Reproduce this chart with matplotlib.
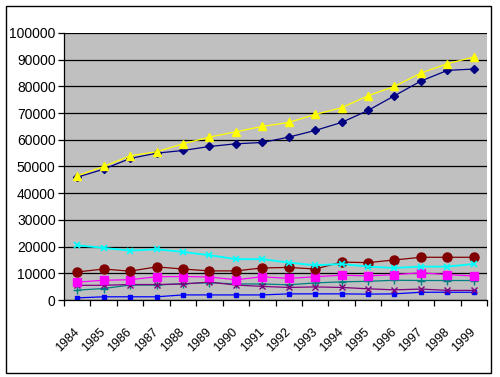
import matplotlib
matplotlib.use("Agg")
import matplotlib.pyplot as plt
from matplotlib.patches import Rectangle

plt.rcParams['font.family'] = ['Liberation Sans Narrow', 'Liberation Sans', 'DejaVu Sans']

years = [str(y) for y in range(1984, 2000)]

s_navy = [46000, 49000, 53000, 55000, 56000, 57500, 58500, 59000, 61000, 63500, 66500, 71000, 76500, 82000, 86000, 86500]
s_yellow = [46500, 50000, 54000, 55500, 58500, 61000, 63000, 65000, 66500, 69500, 72000, 76500, 80000, 85000, 88500, 91000]
s_cyan = [20500, 19500, 18500, 19000, 18000, 16800, 15300, 15300, 14000, 13000, 13500, 12500, 12000, 12500, 12500, 13500]
s_red = [10500, 11600, 10800, 12400, 11600, 10900, 10900, 12000, 12200, 11600, 14200, 14000, 15000, 16000, 16000, 16000]
s_magenta = [6700, 7400, 7600, 8700, 8800, 8600, 7600, 8700, 8100, 8700, 9300, 9000, 9500, 10200, 9500, 9000]
s_purple = [5500, 5500, 5800, 5800, 6000, 6700, 5600, 5100, 4700, 4900, 4700, 4200, 3800, 4100, 3600, 3600]
s_teal = [3700, 4300, 5600, 5600, 6100, 6500, 6000, 6000, 5700, 6400, 6800, 7000, 7400, 7300, 7300, 7300]
s_blue = [800, 1200, 1200, 1200, 1900, 1900, 1900, 1900, 2300, 2300, 2300, 2200, 2300, 2900, 2900, 2900]

fig = plt.figure(figsize=(5, 3.77), dpi=100)
ax = fig.add_axes([64 / 500, 1 - 300 / 377, 423 / 500, 267 / 377])
ax.set_facecolor("#C0C0C0")

x = list(range(len(years)))
lw = 0.9
ax.plot(x, s_blue, color="#0000FF", lw=lw, marker="s", ms=3)
ax.plot(x, s_teal, color="#008080", lw=lw, marker="+", ms=6, mew=1)
ax.plot(x, s_purple, color="#800080", lw=lw, marker="x", ms=4.5, mew=1)
ax.plot(x, s_magenta, color="#FF00FF", lw=lw, marker="s", ms=5.5)
ax.plot(x, s_red, color="#800000", lw=lw, marker="o", ms=6.5)
ax.plot(x, s_cyan, color="#00FFFF", lw=lw * 1.5, marker="x", ms=4.5, mew=1.2)
ax.plot(x, s_navy, color="#000080", lw=lw, marker="D", ms=4.5)
ax.plot(x, s_yellow, color="#FFFF00", lw=lw, marker="^", ms=6)

ax.set_xlim(-0.5, len(years) - 0.5)
ax.set_ylim(0, 100000)
ax.set_yticks(range(0, 100001, 10000))
ax.yaxis.grid(True, color="black", lw=0.9)
ax.set_axisbelow(True)

ax.set_xticks([i - 0.5 for i in range(len(years) + 1)])
ax.set_xticklabels([])
ax.set_xticks(x, minor=True)
ax.set_xticklabels(years, minor=True, rotation=45, ha="right", va="center",
                   rotation_mode="anchor", fontsize=9)
ax.tick_params(axis="x", which="major", direction="out", length=4, width=0.9, color="black")
ax.tick_params(axis="x", which="minor", length=0, pad=22)
ax.tick_params(axis="y", direction="out", length=4, width=0.9, pad=2, labelsize=10)

for side in ["top", "right"]:
    ax.spines[side].set_visible(False)
for side in ["left", "bottom"]:
    ax.spines[side].set_color("black")
    ax.spines[side].set_linewidth(0.9)

fig.patches.append(Rectangle((6 / 500, 4 / 377), 485 / 500, 367 / 377, transform=fig.transFigure,
                             fill=False, edgecolor="black", lw=1))

fig.savefig("out.png", dpi=100)
